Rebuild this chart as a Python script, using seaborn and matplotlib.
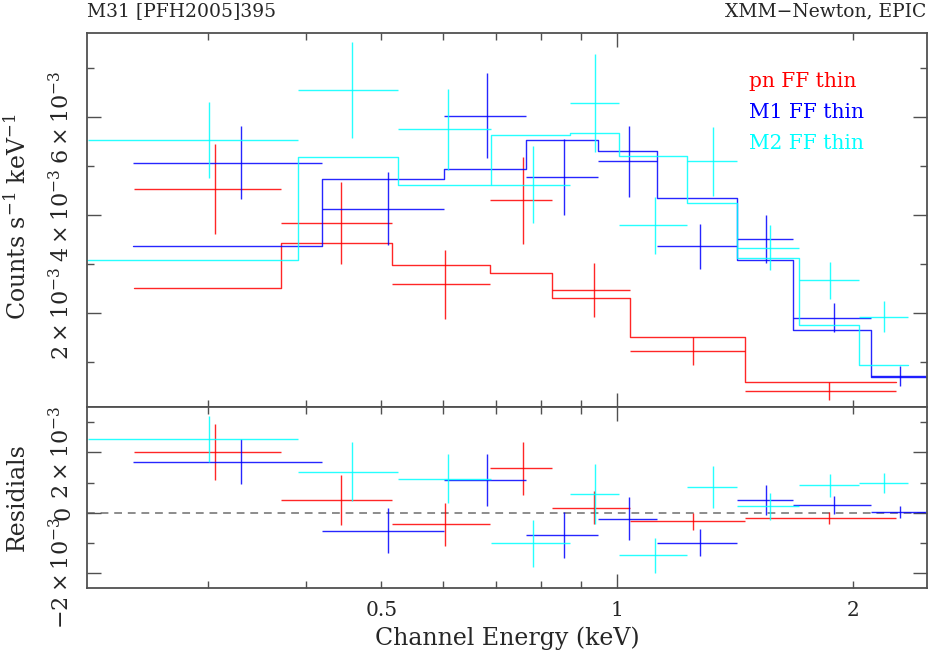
import numpy as np
import pandas as pd
import matplotlib
matplotlib.use("Agg")
import matplotlib.pyplot as plt
import seaborn as sns
from matplotlib.ticker import FixedLocator, FuncFormatter, NullFormatter

# ---------------- data (rates in units of 1e-3 counts s^-1 keV^-1) ----------------
pn_edges = [0.2411, 0.3723, 0.5164, 0.6877, 0.8268, 1.0399, 1.4574, 2.2694]
pn_rate = [4.53, 3.84, 2.59, 4.30, 2.47, 1.23, 0.42]
pn_err = [0.92, 0.83, 0.70, 0.88, 0.55, 0.29, 0.19]
pn_model = [2.52, 3.43, 2.98, 2.82, 2.31, 1.52, 0.60]

m1_edges = [0.2404, 0.4203, 0.6001, 0.7651, 0.9448, 1.1258, 1.4245, 1.6785, 2.1125, 2.484]
m1_rate = [5.07, 4.13, 6.03, 4.78, 5.10, 3.37, 3.52, 1.91, 0.72]
m1_err = [0.75, 0.74, 0.86, 0.77, 0.72, 0.46, 0.49, 0.30, 0.20]
m1_model = [3.37, 4.73, 4.94, 5.53, 5.30, 4.36, 3.09, 1.66, 0.71]

m2_edges = [0.2108, 0.3906, 0.5252, 0.6905, 0.8694, 1.005, 1.2297, 1.4245, 1.7076, 2.0358, 2.353]
m2_rate = [5.53, 6.55, 5.75, 4.62, 6.29, 3.79, 5.10, 3.34, 2.67, 1.93]
m2_err = [0.77, 0.98, 0.82, 0.78, 1.00, 0.58, 0.70, 0.45, 0.38, 0.32]
m2_model = [3.09, 5.19, 4.62, 5.63, 5.67, 5.20, 4.25, 3.13, 1.76, 0.94]

instruments = ["pn FF thin", "M1 FF thin", "M2 FF thin"]
colors = ["#ff0000", "#0000ff", "#00ffff"]

x_major = [1]
x_minor = [0.3, 0.4, 0.5, 0.6, 0.7, 0.8, 0.9, 2]
x_labelled = {0.5: "0.5", 2: "2"}

SCALE = 1e-3

# ---------------- style ----------------
sns.set_theme(style="ticks")
plt.rcParams["font.family"] = ["DejaVu Serif"]
plt.rcParams["mathtext.fontset"] = "dejavuserif"
TXT = "#262626"
FRAME = "#505050"
plt.rcParams["text.color"] = TXT
plt.rcParams["axes.labelcolor"] = TXT
plt.rcParams["xtick.color"] = FRAME
plt.rcParams["ytick.color"] = FRAME
plt.rcParams["xtick.labelcolor"] = TXT
plt.rcParams["ytick.labelcolor"] = TXT

W, H = 929, 659
fig = plt.figure(figsize=(W / 100, H / 100), dpi=100)
L, R = 87, 926.7
T1, B1, B2 = 33.3, 406.7, 588.0
ax = fig.add_axes([L / W, 1 - B1 / H, (R - L) / W, (B1 - T1) / H])
axr = fig.add_axes([L / W, 1 - B2 / H, (R - L) / W, (B2 - B1) / H], sharex=ax)

datasets = [
    (pn_edges, pn_rate, pn_err, pn_model),
    (m1_edges, m1_rate, m1_err, m1_model),
    (m2_edges, m2_rate, m2_err, m2_model),
]

LW = 1.0
ALPHA = 0.85
for name, col, (edges, rate, err, model) in zip(instruments, colors, datasets):
    e = np.asarray(edges)
    lo, hi = e[:-1], e[1:]
    cen = 0.5 * (lo + hi)
    half = 0.5 * (hi - lo)
    r = np.asarray(rate) * SCALE
    er = np.asarray(err) * SCALE
    mo = np.asarray(model) * SCALE
    # data crosses
    ax.errorbar(cen, r, xerr=half, yerr=er, fmt="none", ecolor=col,
                elinewidth=LW, capsize=0, alpha=ALPHA)
    # model histogram (stepped)
    df = pd.DataFrame({"E": e, "model": np.append(mo, mo[-1])})
    sns.lineplot(data=df, x="E", y="model", ax=ax, color=col, lw=LW, alpha=ALPHA,
                 drawstyle="steps-post", estimator=None, sort=True, legend=False)
    # residuals
    axr.errorbar(cen, r - mo, xerr=half, yerr=er, fmt="none", ecolor=col,
                 elinewidth=LW, capsize=0, alpha=ALPHA)

axr.axhline(0, color="#8c8c8c", lw=1.4, ls=(0, (4, 3)), zorder=0)

# ---------------- axes ----------------
ax.set_xscale("log")
ax.set_xlim(0.2102, 2.487)
ax.set_ylim(0.098e-3, 7.706e-3)
axr.set_ylim(-2.5e-3, 3.52e-3)

for a in (ax, axr):
    a.xaxis.set_major_locator(FixedLocator(x_major))
    a.xaxis.set_minor_locator(FixedLocator(x_minor))
    a.tick_params(which="both", direction="in", top=True, right=True,
                  width=1.0, color=FRAME)
    a.tick_params(which="major", length=10)
    a.tick_params(which="minor", length=5)
    for s in a.spines.values():
        s.set_color(FRAME)
        s.set_linewidth(1.3)
    a.set_xlabel("")
    a.set_ylabel("")

ax.tick_params(which="both", labelbottom=False)
axr.xaxis.set_major_formatter(FuncFormatter(lambda v, p: "1"))
axr.xaxis.set_minor_formatter(FuncFormatter(lambda v, p: x_labelled.get(round(v, 2), "")))
axr.tick_params(which="both", axis="x", labelsize=14.5, pad=9)

ax.yaxis.set_major_locator(FixedLocator([2e-3, 4e-3, 6e-3]))
ax.yaxis.set_minor_locator(FixedLocator([1e-3, 3e-3, 5e-3, 7e-3]))
ax.set_yticklabels([r"$2\times10^{-3}$", r"$4\times10^{-3}$", r"$6\times10^{-3}$"],
                   rotation=90, va="center")
ax.yaxis.set_minor_formatter(NullFormatter())
ax.tick_params(axis="y", labelsize=16, pad=9)

axr.yaxis.set_major_locator(FixedLocator([-2e-3, 0, 2e-3]))
axr.yaxis.set_minor_locator(FixedLocator([-1e-3, 1e-3, 3e-3]))
axr.set_yticklabels([r"$-2\times10^{-3}$", "0", r"$2\times10^{-3}$"],
                    rotation=90, va="center")
axr.yaxis.set_minor_formatter(NullFormatter())
axr.tick_params(axis="y", labelsize=16, pad=9)

# ---------------- texts ----------------
fig.text(17 / W, 1 - 217 / H, r"Counts s$^{-1}$ keV$^{-1}$", rotation=90,
         ha="center", va="center", fontsize=17)
fig.text(17 / W, 1 - 497 / H, "Residials", rotation=90,
         ha="center", va="center", fontsize=17)
fig.text(507 / W, 1 - 638 / H, "Channel Energy (keV)", ha="center", va="center",
         fontsize=17)
fig.text(L / W, 1 - 11 / H, "M31 [PFH2005]395", ha="left", va="center", fontsize=13.5)
fig.text(926 / W, 1 - 11 / H, "XMM\u2212Newton, EPIC", ha="right", va="center",
         fontsize=13.5)

for i, (name, col) in enumerate(zip(instruments, colors)):
    yb = [87.3, 118.3, 149.3][i]
    ax.text((749.3 - L) / (R - L), (B1 - yb) / (B1 - T1), name, color=col,
            transform=ax.transAxes, ha="left", va="baseline", fontsize=14.5)

fig.savefig("out.png", dpi=100)
